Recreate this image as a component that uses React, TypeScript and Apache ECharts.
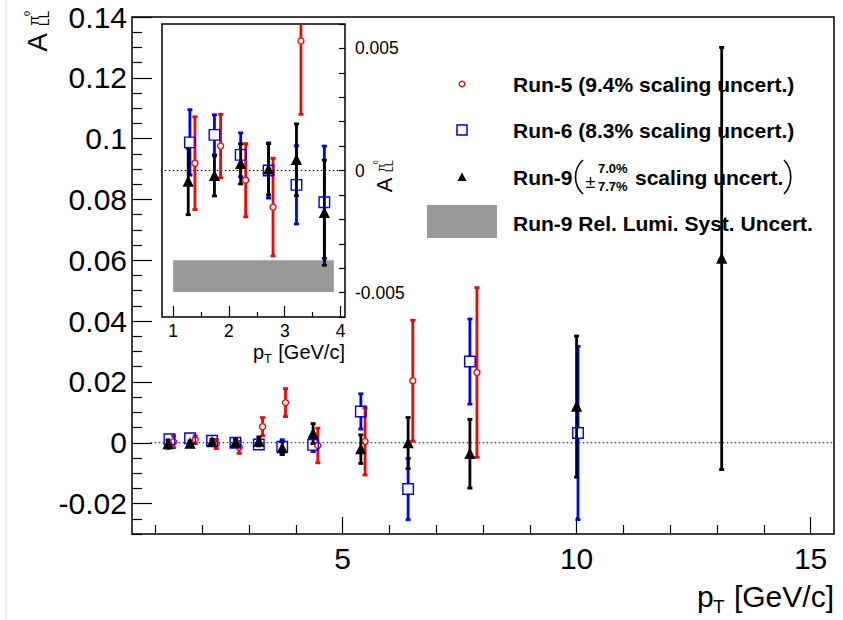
import React, { useEffect, useRef } from "react";
import * as echarts from "echarts";

const FONT = "'Liberation Sans', Arial, Helvetica, sans-serif";

// ---------- data ----------
// Run-5 (red open circles)
const run5Pt = [1.39, 1.85, 2.30, 2.79, 3.29, 3.78, 4.47, 5.48, 6.50, 7.87];
const run5All = [0.0003, 0.0010, -0.0004, -0.0015, 0.0053, 0.0132, -0.0009, 0.0004, 0.0204, 0.0231];
const run5Err = [0.0019, 0.0013, 0.0015, 0.0020, 0.0030, 0.0046, 0.0057, 0.0110, 0.0199, 0.0279];

// Run-6 (blue open squares)
const run6Pt = [1.30, 1.74, 2.21, 2.71, 3.21, 3.71, 4.37, 5.39, 6.40, 7.72, 10.03];
const run6All = [0.00115, 0.00146, 0.00064, 0.0, -0.00059, -0.0013, -0.0007, 0.0103, -0.0152, 0.0267, 0.0032];
const run6Err = [0.00134, 0.00082, 0.0009, 0.00113, 0.0016, 0.0023, 0.0022, 0.0058, 0.0101, 0.0140, 0.0285];

// Run-9 (black filled triangles)
const run9Pt = [1.27, 1.74, 2.21, 2.71, 3.21, 3.71, 4.37, 5.39, 6.40, 7.72, 10.0, 13.1];
const run9All = [-0.00045, -0.00022, 0.00027, 0.00005, 0.00044, -0.00173, 0.0030, -0.0021, -0.0001, -0.0036, 0.0119, 0.0606];
const run9Err = [0.00136, 0.00082, 0.00082, 0.00105, 0.00147, 0.00215, 0.0033, 0.0047, 0.0084, 0.0113, 0.0232, 0.0694];

// Run-9 relative luminosity systematic band (inset)
const sysBandPt = [1.0, 3.88];
const sysBandAll = [-0.00498, -0.00368];

// zero reference lines
const mainZeroPt = [0.9, 15.5];
const insetZeroPt = [0.85, 4.0];

// tick labels
const mainXLabels = [5, 10, 15];
const mainYLabels = [-0.02, 0, 0.02, 0.04, 0.06, 0.08, 0.1, 0.12, 0.14];
const insetXLabels = [1, 2, 3, 4];
const insetYLabels = [-0.005, 0, 0.005];

// axis ranges
const mainX = [0.5, 15.5];
const mainY = [-0.03, 0.14];
const insetX = [0.8, 4.08];
const insetY = [-0.006, 0.006];

// minor ticks
const mainXMinor: number[] = [];
for (let i = 1; i <= 15; i++) if (i % 5 !== 0) mainXMinor.push(i);
const mainYMinor: number[] = [];
for (let k = -6; k <= 28; k++) if (k % 4 !== 0) mainYMinor.push(k * 0.005);
const insetXMinor = [1.5, 2.5, 3.5];
const insetYTicks: number[] = [];
for (let k = -6; k <= 6; k++) insetYTicks.push(k * 0.001);

const RED = "#ff0000";
const BLUE = "#0000ff";
const BLACK = "#000000";

const inInset = (x: number, y: number) =>
  x >= insetX[0] && x <= insetX[1] && y >= insetY[0] && y <= insetY[1];

function errBars(
  xs: number[], ys: number[], es: number[], color: string, gap: number,
  xAxisIndex: number, yAxisIndex: number, z: number, onlyInset: boolean
) {
  const data = xs
    .map((x, i) => [x, ys[i], es[i]])
    .filter((d) => !onlyInset || (d[0] >= insetX[0] && d[0] <= insetX[1]));
  return {
    type: "custom",
    xAxisIndex,
    yAxisIndex,
    z,
    clip: true,
    silent: true,
    encode: { x: 0, y: 1 },
    data,
    renderItem: (_p: any, api: any) => {
      const x = api.value(0);
      const y = api.value(1);
      const e = api.value(2);
      const c = api.coord([x, y]);
      const t = api.coord([x, y + e]);
      const b = api.coord([x, y - e]);
      const st = { stroke: color, lineWidth: 2.8, fill: "none" };
      const cap = 2.5;
      const children: any[] = [];
      if (c[1] - t[1] > gap) {
        children.push({ type: "line", shape: { x1: c[0], y1: c[1] - gap, x2: c[0], y2: t[1] }, style: st });
        children.push({ type: "line", shape: { x1: c[0] - cap, y1: t[1], x2: c[0] + cap, y2: t[1] }, style: st });
      }
      if (b[1] - c[1] > gap) {
        children.push({ type: "line", shape: { x1: c[0], y1: c[1] + gap, x2: c[0], y2: b[1] }, style: st });
        children.push({ type: "line", shape: { x1: c[0] - cap, y1: b[1], x2: c[0] + cap, y2: b[1] }, style: st });
      }
      return { type: "group", children };
    },
  };
}

function markers(
  xs: number[], ys: number[], symbol: string, size: number, fill: string, stroke: string,
  xAxisIndex: number, yAxisIndex: number, z: number, onlyInset: boolean
) {
  const data = xs
    .map((x, i) => [x, ys[i]])
    .filter((d) => !onlyInset || inInset(d[0], d[1]));
  return {
    type: "scatter",
    xAxisIndex,
    yAxisIndex,
    z,
    clip: true,
    silent: true,
    symbol,
    symbolSize: size,
    itemStyle: { color: fill, borderColor: stroke, borderWidth: 1.4, opacity: 1 },
    data,
  };
}

function zeroLine(xs: number[], xAxisIndex: number, yAxisIndex: number, z: number) {
  return {
    type: "line",
    xAxisIndex,
    yAxisIndex,
    z,
    silent: true,
    showSymbol: false,
    symbol: "none",
    lineStyle: { color: "#000", width: 1, type: [1.5, 2.5] },
    data: xs.map((x) => [x, 0]),
  };
}

// rotated (reading upward) text, centred on (cx, cy)
function rotText(text: string, cx: number, cy: number, fs: number) {
  return {
    type: "text",
    x: cx,
    y: cy,
    rotation: Math.PI / 2,
    z: 30,
    style: { text, fontFamily: FONT, fontSize: fs, fill: "#000", align: "center", verticalAlign: "middle" },
  };
}

function aLabel(ax: number, ay: number, s: number) {
  return [
    rotText("A", ax, ay, 28 * s),
    rotText("LL", ax + 6 * s, ay - 24 * s, 14 * s),
    rotText("π", ax - 4 * s, ay - 22 * s, 15 * s),
    rotText("0", ax - 10.5 * s, ay - 29 * s, 9 * s),
  ];
}

const legendFont = { fontFamily: FONT, fontWeight: "bold", fontSize: 21, fill: "#000", verticalAlign: "middle", align: "left" };

const graphics: any[] = [
  { type: "line", shape: { x1: 6, y1: 0, x2: 6, y2: 620 }, style: { stroke: "#ececec", lineWidth: 1.5 }, z: 0 },
  ...aLabel(37.5, 42.5, 1),
  ...aLabel(384, 185, 0.78),
  // main x title
  { type: "text", x: 697, y: 596, z: 30, style: { text: "p", fontFamily: FONT, fontSize: 30, fill: "#000", verticalAlign: "middle", align: "left" } },
  { type: "text", x: 713, y: 606, z: 30, style: { text: "T", fontFamily: FONT, fontSize: 19, fill: "#000", verticalAlign: "middle", align: "left" } },
  { type: "text", x: 834, y: 596, z: 30, style: { text: "[GeV/c]", fontFamily: FONT, fontSize: 30, fill: "#000", verticalAlign: "middle", align: "right" } },
  // inset x title
  { type: "text", x: 253, y: 352, z: 30, style: { text: "p", fontFamily: FONT, fontSize: 20, fill: "#000", verticalAlign: "middle", align: "left" } },
  { type: "text", x: 264, y: 359, z: 30, style: { text: "T", fontFamily: FONT, fontSize: 12.5, fill: "#000", verticalAlign: "middle", align: "left" } },
  { type: "text", x: 345, y: 352, z: 30, style: { text: "[GeV/c]", fontFamily: FONT, fontSize: 20, fill: "#000", verticalAlign: "middle", align: "right" } },
  // legend
  { type: "circle", z: 30, shape: { cx: 462, cy: 84, r: 2.8 }, style: { fill: "none", stroke: RED, lineWidth: 1.3 } },
  { type: "text", x: 513, y: 84, z: 30, style: { ...legendFont, text: "Run-5 (9.4% scaling uncert.)" } },
  { type: "rect", z: 30, shape: { x: 457, y: 125, width: 10, height: 10 }, style: { fill: "none", stroke: BLUE, lineWidth: 1.5 } },
  { type: "text", x: 513, y: 130, z: 30, style: { ...legendFont, text: "Run-6 (8.3% scaling uncert.)" } },
  { type: "polygon", z: 30, shape: { points: [[462, 172.5], [457.5, 181], [466.5, 181]] }, style: { fill: BLACK } },
  { type: "text", x: 513, y: 177, z: 30, style: { ...legendFont, text: "Run-9" } },
  { type: "bezierCurve", z: 30, shape: { x1: 583, y1: 160, cpx1: 573, cpy1: 169, cpx2: 573, cpy2: 185, x2: 583, y2: 194 }, style: { stroke: "#000", lineWidth: 1.6, fill: "none" } },
  { type: "text", x: 585.5, y: 182, z: 30, style: { fontFamily: FONT, fontSize: 18, fill: "#000", verticalAlign: "middle", align: "left", text: "±" } },
  { type: "text", x: 598, y: 168, z: 30, style: { fontFamily: FONT, fontWeight: "bold", fontSize: 13, fill: "#000", verticalAlign: "middle", align: "left", text: "7.0%" } },
  { type: "text", x: 598, y: 186, z: 30, style: { fontFamily: FONT, fontWeight: "bold", fontSize: 13, fill: "#000", verticalAlign: "middle", align: "left", text: "7.7%" } },
  { type: "text", x: 635, y: 177, z: 30, style: { ...legendFont, text: "scaling uncert." } },
  { type: "bezierCurve", z: 30, shape: { x1: 784, y1: 160, cpx1: 793, cpy1: 169, cpx2: 793, cpy2: 185, x2: 784, y2: 194 }, style: { stroke: "#000", lineWidth: 1.6, fill: "none" } },
  { type: "rect", z: 30, shape: { x: 427, y: 205, width: 70, height: 33 }, style: { fill: "#999999" } },
  { type: "text", x: 513, y: 223, z: 30, style: { ...legendFont, text: "Run-9 Rel. Lumi. Syst. Uncert." } },
];

const tickLine = { color: "#000", width: 1.2 };
const labelBase = { fontFamily: FONT, color: "#000" };
const fmtMain = (v: number) => String(Math.round(v * 100) / 100);
const fmtInset = (v: number) => (Math.abs(v) < 1e-9 ? "0" : v.toFixed(3));

const option: any = {
  animation: false,
  backgroundColor: "#ffffff",
  grid: [
    { left: 132, top: 17, width: 702, height: 517, show: true, borderColor: "#000", borderWidth: 1.5, backgroundColor: "transparent", containLabel: false },
    { left: 162, top: 24, width: 183, height: 293, show: true, borderColor: "#000", borderWidth: 1.5, backgroundColor: "#ffffff", z: 10, containLabel: false },
  ],
  xAxis: [
    {
      gridIndex: 0, type: "value", min: mainX[0], max: mainX[1], position: "bottom",
      axisLine: { show: false, onZero: false }, splitLine: { show: false },
      axisTick: { show: true, inside: true, length: 17, customValues: mainXLabels, lineStyle: tickLine },
      axisLabel: { customValues: mainXLabels, fontSize: 30, margin: 9, ...labelBase },
    },
    {
      gridIndex: 0, type: "value", min: mainX[0], max: mainX[1], position: "bottom",
      axisLine: { show: false, onZero: false }, splitLine: { show: false },
      axisTick: { show: true, inside: true, length: 9, customValues: mainXMinor, lineStyle: tickLine },
      axisLabel: { show: false },
    },
    {
      gridIndex: 1, type: "value", min: insetX[0], max: insetX[1], position: "bottom", z: 11,
      axisLine: { show: false, onZero: false }, splitLine: { show: false },
      axisTick: { show: true, inside: true, length: 11, customValues: insetXLabels, lineStyle: tickLine },
      axisLabel: { customValues: insetXLabels, fontSize: 17.5, margin: 5, ...labelBase },
    },
    {
      gridIndex: 1, type: "value", min: insetX[0], max: insetX[1], position: "bottom", z: 11,
      axisLine: { show: false, onZero: false }, splitLine: { show: false },
      axisTick: { show: true, inside: true, length: 5, customValues: insetXMinor, lineStyle: tickLine },
      axisLabel: { show: false },
    },
  ],
  yAxis: [
    {
      gridIndex: 0, type: "value", min: mainY[0], max: mainY[1], position: "left",
      axisLine: { show: false, onZero: false }, splitLine: { show: false },
      axisTick: { show: true, inside: true, length: 20, customValues: mainYLabels, lineStyle: tickLine },
      axisLabel: { customValues: mainYLabels, fontSize: 30, margin: 5, formatter: fmtMain, ...labelBase },
    },
    {
      gridIndex: 0, type: "value", min: mainY[0], max: mainY[1], position: "left",
      axisLine: { show: false, onZero: false }, splitLine: { show: false },
      axisTick: { show: true, inside: true, length: 10, customValues: mainYMinor, lineStyle: tickLine },
      axisLabel: { show: false },
    },
    {
      gridIndex: 1, type: "value", min: insetY[0], max: insetY[1], position: "right", z: 11,
      axisLine: { show: false, onZero: false }, splitLine: { show: false },
      axisTick: { show: true, inside: true, length: 6, customValues: insetYTicks, lineStyle: tickLine },
      axisLabel: { customValues: insetYLabels, fontSize: 17.5, margin: 10, formatter: fmtInset, ...labelBase },
    },
  ],
  series: [
    // main plot
    zeroLine(mainZeroPt, 0, 0, 2),
    errBars(run5Pt, run5All, run5Err, RED, 3.3, 0, 0, 3, false),
    errBars(run6Pt, run6All, run6Err, BLUE, 5.2, 0, 0, 3, false),
    errBars(run9Pt, run9All, run9Err, BLACK, 0, 0, 0, 3, false),
    markers(run5Pt, run5All, "circle", 6, "rgba(0,0,0,0)", RED, 0, 0, 4, false),
    markers(run6Pt, run6All, "rect", 10.5, "rgba(0,0,0,0)", BLUE, 0, 0, 4, false),
    markers(run9Pt, run9All, "triangle", 9, BLACK, BLACK, 0, 0, 5, false),
    // inset
    {
      type: "custom", xAxisIndex: 2, yAxisIndex: 2, z: 12, clip: true, silent: true,
      encode: { x: 0, y: 1 },
      data: [[sysBandPt[0], sysBandAll[0], sysBandPt[1], sysBandAll[1]]],
      renderItem: (_p: any, api: any) => {
        const a = api.coord([api.value(0), api.value(1)]);
        const b = api.coord([api.value(2), api.value(3)]);
        return {
          type: "rect",
          shape: { x: a[0], y: b[1], width: b[0] - a[0], height: a[1] - b[1] },
          style: { fill: "#999999" },
        };
      },
    },
    zeroLine(insetZeroPt, 2, 2, 12),
    errBars(run5Pt, run5All, run5Err, RED, 3.3, 2, 2, 13, true),
    errBars(run6Pt, run6All, run6Err, BLUE, 5.2, 2, 2, 13, true),
    errBars(run9Pt, run9All, run9Err, BLACK, 0, 2, 2, 13, true),
    markers(run5Pt, run5All, "circle", 6, "rgba(0,0,0,0)", RED, 2, 2, 14, true),
    markers(run6Pt, run6All, "rect", 10.5, "rgba(0,0,0,0)", BLUE, 2, 2, 14, true),
    markers(run9Pt, run9All, "triangle", 9, BLACK, BLACK, 2, 2, 15, true),
  ],
  graphic: graphics,
};

export default function App() {
  const ref = useRef<HTMLDivElement>(null);
  useEffect(() => {
    document.body.style.margin = "0";
    const chart = echarts.init(ref.current as HTMLDivElement, null, { renderer: "svg" });
    chart.setOption(option);
    return () => chart.dispose();
  }, []);
  return <div ref={ref} style={{ width: 843, height: 620, background: "#fff" }} />;
}
